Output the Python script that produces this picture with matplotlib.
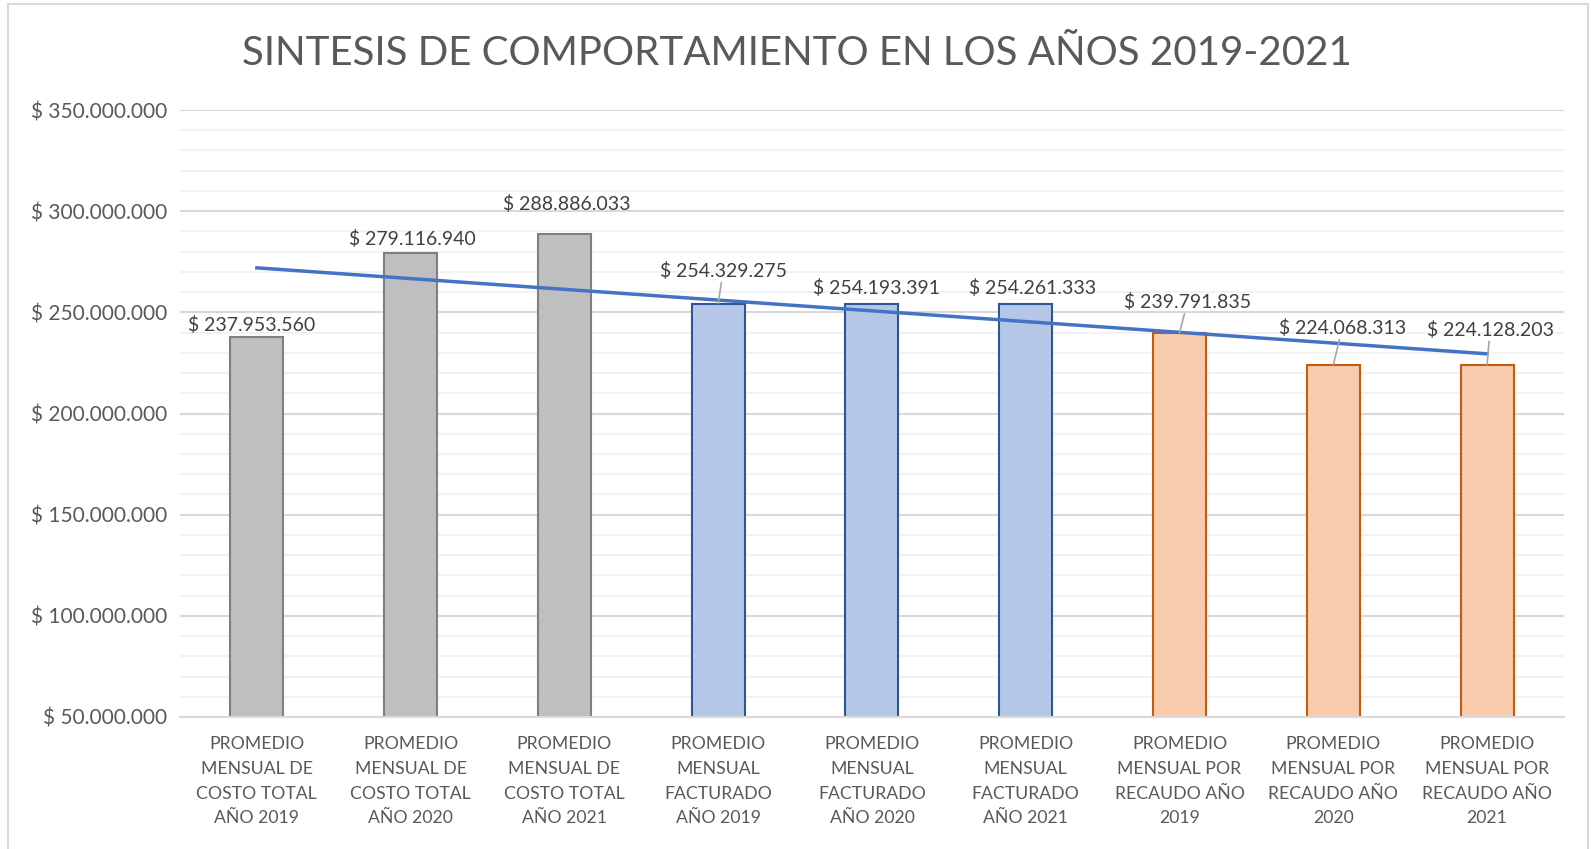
import matplotlib.pyplot as plt
import numpy as np
from matplotlib.patches import Rectangle
from matplotlib.ticker import FuncFormatter, MultipleLocator

plt.rcParams['font.family'] = ['Lato', 'DejaVu Sans']

categorias = [
    "PROMEDIO\nMENSUAL DE\nCOSTO TOTAL\nAÑO 2019",
    "PROMEDIO\nMENSUAL DE\nCOSTO TOTAL\nAÑO 2020",
    "PROMEDIO\nMENSUAL DE\nCOSTO TOTAL\nAÑO 2021",
    "PROMEDIO\nMENSUAL\nFACTURADO\nAÑO 2019",
    "PROMEDIO\nMENSUAL\nFACTURADO\nAÑO 2020",
    "PROMEDIO\nMENSUAL\nFACTURADO\nAÑO 2021",
    "PROMEDIO\nMENSUAL POR\nRECAUDO AÑO\n2019",
    "PROMEDIO\nMENSUAL POR\nRECAUDO AÑO\n2020",
    "PROMEDIO\nMENSUAL POR\nRECAUDO AÑO\n2021",
]
valores = [237953560, 279116940, 288886033, 254329275, 254193391,
           254261333, 239791835, 224068313, 224128203]

rellenos = ['#BFBFBF'] * 3 + ['#B4C7E7'] * 3 + ['#F8CBAD'] * 3
bordes = ['#7F7F7F'] * 3 + ['#2F5597'] * 3 + ['#C55A11'] * 3

# desplazamiento de las etiquetas (px) y si llevan linea guia
desp_x = [-5, 2, 2, 5, 5, 7, 8, 9, 3]
desp_y = [12, 14, 30, 33, 16, 16, 31, 37, 35]
guia = [False, False, False, True, False, False, True, True, True]


def pesos(v, pos=None):
    return "$ " + f"{int(round(v)):,}".replace(",", ".")


fig = plt.figure(figsize=(15.91, 8.49), dpi=100)
ax = fig.add_axes([0.1131, 0.1555, 0.8699, 0.7149])

x = np.arange(len(valores))
ax.bar(x, valores, width=0.345, color=rellenos, edgecolor=bordes,
       linewidth=1.5, zorder=2)

# linea de tendencia lineal
m, b = np.polyfit(x, valores, 1)
ax.plot(x, m * x + b, color='#4472C4', lw=2.5, zorder=3)

for i, v in enumerate(valores):
    ap = None
    if guia[i]:
        ap = dict(arrowstyle='-', color='#A6A6A6', lw=1.2, shrinkA=0, shrinkB=0)
    ax.annotate(pesos(v), (x[i], v), xytext=(desp_x[i], desp_y[i]),
                textcoords='offset pixels', ha='center', va='center',
                fontsize=14, color='#404040', arrowprops=ap, zorder=4)

ax.set_ylim(50000000, 350000000)
ax.set_xlim(-0.5, len(valores) - 0.5)
ax.yaxis.set_major_locator(MultipleLocator(50000000))
ax.yaxis.set_minor_locator(MultipleLocator(10000000))
ax.yaxis.set_major_formatter(FuncFormatter(pesos))
ax.grid(axis='y', which='major', color='#D9D9D9', lw=1.5, zorder=0)
ax.grid(axis='y', which='minor', color='#F2F2F2', lw=1.5, zorder=0)
ax.set_axisbelow(True)

ax.set_xticks(x)
ax.set_xticklabels(categorias, linespacing=1.66)
ax.tick_params(axis='x', length=0, pad=14, labelsize=12.7, labelcolor='#595959')
ax.tick_params(axis='y', which='both', length=0, pad=9, labelsize=15,
               labelcolor='#595959')

for s in ['top', 'right', 'left']:
    ax.spines[s].set_visible(False)
ax.spines['bottom'].set_color('#D9D9D9')
ax.spines['bottom'].set_linewidth(1.5)

fig.text(0.501, 0.937, "SINTESIS DE COMPORTAMIENTO EN LOS AÑOS 2019-2021",
         ha='center', va='center', fontsize=29, color='#595959')

fig.patches.append(Rectangle((8 / 1591, -0.01), 1580 / 1591, 1.01 - 4 / 849,
                             transform=fig.transFigure, fill=False,
                             edgecolor='#D9D9D9', lw=1.5))

fig.savefig('out.png', dpi=100)
